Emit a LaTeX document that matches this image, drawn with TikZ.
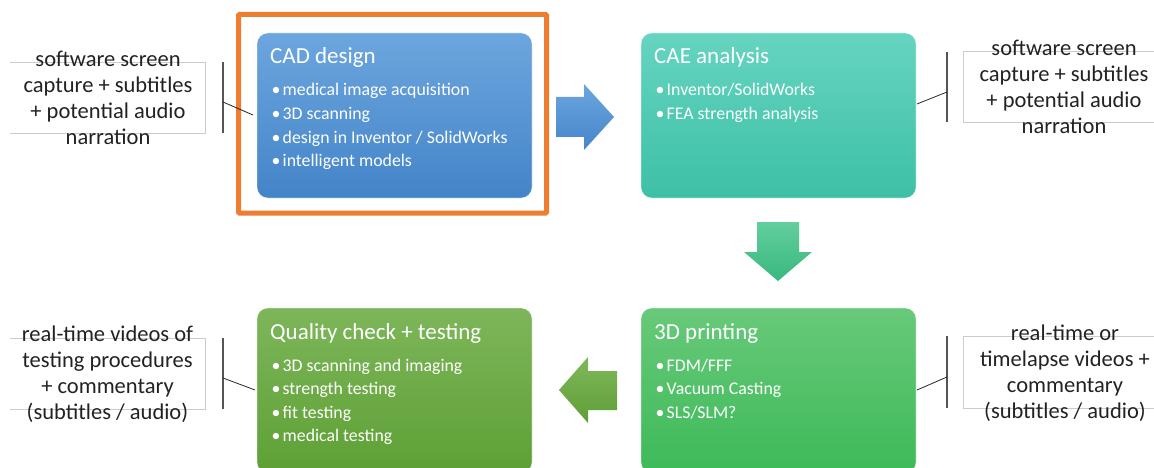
\documentclass[tikz,border=0pt]{standalone}
\usepackage{fontspec}
\setmainfont{Carlito}

% stage fills (top / bottom of each gradient)
\definecolor{cadtop}{HTML}{6DA6DE}
\definecolor{cadbot}{HTML}{4384C8}
\definecolor{caetop}{HTML}{66D4C0}
\definecolor{caebot}{HTML}{3DC0A6}
\definecolor{prttop}{HTML}{68C97A}
\definecolor{prtbot}{HTML}{3DBA58}
\definecolor{qcktop}{HTML}{7DB65A}
\definecolor{qckbot}{HTML}{5EA035}
% block arrows
\definecolor{arrAtop}{HTML}{6CA6DE}
\definecolor{arrAbot}{HTML}{4585CA}
\definecolor{arrBtop}{HTML}{62CE9E}
\definecolor{arrBbot}{HTML}{38B87E}
\definecolor{arrCtop}{HTML}{80B85A}
\definecolor{arrCbot}{HTML}{5E9E38}
% callouts and highlight
\definecolor{focusorange}{HTML}{ED7D31}
\definecolor{framegray}{HTML}{CCCCCC}
\definecolor{bargray}{HTML}{555555}
\definecolor{notetext}{HTML}{222222}

\newcommand\itemdot{\makebox[11pt][l]{•}}

\begin{document}
\begin{tikzpicture}[x=1pt, y=-1pt,
  stage/.style={rectangle, rounded corners=11pt, minimum width=275pt,
    minimum height=165pt, inner sep=0pt, outer sep=0pt, anchor=north west,
    draw=white, draw opacity=0.45, line width=0.6pt},
  heading/.style={anchor=base west, text=white, inner sep=0pt,
    font=\fontsize{23}{27}\selectfont},
  item/.style={anchor=base west, text=white, inner sep=0pt,
    font=\fontsize{17.8}{21}\selectfont},
  note/.style={align=center, text=notetext, inner sep=0pt,
    font=\fontsize{22.5}{26}\selectfont},
  frame/.style={draw=framegray, line width=0.8pt},
  bar/.style={draw=bargray, line width=2pt},
  leader/.style={draw=black!85, line width=0.8pt},
  focus/.style={draw=focusorange, line width=5pt, rounded corners=1pt}
]
\useasboundingbox (0,0) rectangle (1154,468);
\clip (0,0) rectangle (1154,468);

% ---- process stages ----
\node[stage, top color=cadtop, bottom color=cadbot] (cad) at (257,33) {};
\node[stage, top color=caetop, bottom color=caebot] (cae) at (641,33) {};
\node[stage, top color=prttop, bottom color=prtbot] (print) at (641,308) {};
\node[stage, top color=qcktop, bottom color=qckbot] (quality) at (257,308) {};

% headings
\node[heading] (cad-t) at ([xshift=13pt,yshift=-31pt]cad.north west) {CAD design};
\node[heading] (cae-t) at ([xshift=13pt,yshift=-31pt]cae.north west) {CAE analysis};
\node[heading] (print-t) at ([xshift=13pt,yshift=-31pt]print.north west) {3D printing};
\node[heading] (quality-t) at ([xshift=13pt,yshift=-31pt]quality.north west) {Quality check + testing};

% bullet lists
\foreach \txt [count=\i] in {medical image acquisition, 3D scanning,
    design in Inventor / SolidWorks, intelligent models}
  \node[item] (cad-\i) at ([xshift=14.5pt,yshift={-(63+(\i-1)*23.5)}]cad.north west) {\itemdot\txt};
\foreach \txt [count=\i] in {Inventor/SolidWorks, FEA strength analysis}
  \node[item] (cae-\i) at ([xshift=14.5pt,yshift={-(63+(\i-1)*23.5)}]cae.north west) {\itemdot\txt};
\foreach \txt [count=\i] in {FDM/FFF, Vacuum Casting, SLS/SLM?}
  \node[item] (print-\i) at ([xshift=14.5pt,yshift={-(63+(\i-1)*23.5)}]print.north west) {\itemdot\txt};
\foreach \txt [count=\i] in {3D scanning and imaging, strength testing,
    fit testing, medical testing}
  \node[item] (quality-\i) at ([xshift=14.5pt,yshift={-(63+(\i-1)*23.5)}]quality.north west) {\itemdot\txt};

% ---- block arrows between stages ----
\shade[top color=arrAtop, bottom color=arrAbot]
  (556,97) -- (584,97) -- (584,84) -- (614,117) -- (584,150) -- (584,137) -- (556,137) -- cycle;
\shade[top color=arrBtop, bottom color=arrBbot]
  (757,222) -- (799,222) -- (799,252) -- (812,252) -- (778,281) -- (744,252) -- (757,252) -- cycle;
\shade[top color=arrCtop, bottom color=arrCbot]
  (617,371) -- (588,371) -- (588,357) -- (559,390) -- (588,423) -- (588,410) -- (617,410) -- cycle;

% ---- highlight around the first stage ----
\draw[focus] (238.5,14.5) rectangle (546.5,213);

% ---- callouts ----
% top left
\draw[frame] (10,62) -- (205,62) -- (205,133) -- (10,133);
\draw[bar] (223,62) -- (223,133);
\coordinate (n1a) at (223,102);
\coordinate (n1b) at (253,115);
\draw[leader] (n1a) -- (n1b);
\node[note] (note1) at (108,98) {software screen\\capture + subtitles\\+ potential audio\\narration};

% top right
\draw[frame] (1160,51) -- (963,51) -- (963,122) -- (1160,122);
\draw[bar] (947,52) -- (947,122);
\coordinate (n2a) at (947,92);
\coordinate (n2b) at (917,104);
\draw[leader] (n2a) -- (n2b);
\node[note] (note2) at (1064,87) {software screen\\capture + subtitles\\+ potential audio\\narration};

% bottom left
\draw[frame] (10,338) -- (205,338) -- (205,409) -- (10,409);
\draw[bar] (223,338) -- (223,409);
\coordinate (n3a) at (223,378);
\coordinate (n3b) at (255,390);
\draw[leader] (n3a) -- (n3b);
\node[note] (note3) at (107.5,374.5) {real-time videos of\\testing procedures\\+ commentary\\(subtitles / audio)};

% bottom right
\draw[frame] (1160,336) -- (963,336) -- (963,408) -- (1160,408);
\draw[bar] (947,336) -- (947,408);
\coordinate (n4a) at (947,377);
\coordinate (n4b) at (917,390);
\draw[leader] (n4a) -- (n4b);
\node[note] (note4) at (1065,373) {real-time or\\timelapse videos +\\commentary\\(subtitles / audio)};
\end{tikzpicture}
\end{document}
